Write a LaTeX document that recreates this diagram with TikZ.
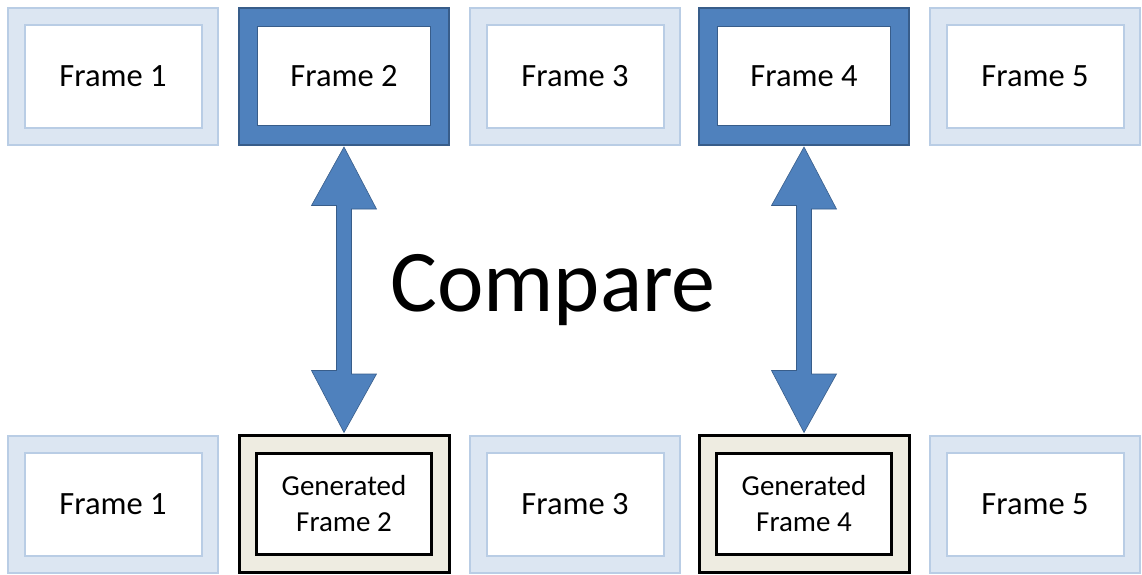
\documentclass[tikz,border=0pt]{standalone}
\usepackage{fontspec}
\setmainfont{Carlito}
\definecolor{lightfill}{HTML}{DCE6F2}
\definecolor{lightborder}{HTML}{B9CDE5}
\definecolor{darkfill}{HTML}{4F81BD}
\definecolor{darkborder}{HTML}{385D8A}
\definecolor{beige}{HTML}{EEECE1}
\begin{document}
\begin{tikzpicture}[x=1pt,y=-1pt,
  outerbox/.style={rectangle, minimum width=210pt, minimum height=137pt, inner sep=0pt},
  lightout/.style={outerbox, fill=lightfill, draw=lightborder, line width=2pt},
  darkout/.style={outerbox, fill=darkfill, draw=darkborder, line width=2pt},
  genout/.style={outerbox, fill=beige, draw=black, line width=3pt},
  lightin/.style={rectangle, minimum width=177pt, minimum height=103pt, fill=white, draw=lightborder, line width=2pt, font=\fontsize{32.5}{39}\selectfont},
  darkin/.style={rectangle, minimum width=173pt, minimum height=99pt, fill=white, draw=darkborder, line width=1.5pt, font=\fontsize{32.5}{39}\selectfont},
  genin/.style={rectangle, minimum width=175pt, minimum height=101pt, fill=white, draw=black, line width=3pt, align=center, font=\fontsize{29}{36}\selectfont},
  bigarrow/.style={fill=darkfill, draw=darkborder, line width=0.6pt, line join=miter}
]
\useasboundingbox (0,0) rectangle (1142,574);
% top row
\node[lightout] (t1o) at (113,76) {};
\node[lightin] (t1) at (t1o) {Frame 1};
\node[darkout] (t2o) at (344,76) {};
\node[darkin] (t2) at (t2o) {Frame 2};
\node[lightout] (t3o) at (575,76) {};
\node[lightin] (t3) at (t3o) {Frame 3};
\node[darkout] (t4o) at (804,76) {};
\node[darkin] (t4) at (t4o) {Frame 4};
\node[lightout] (t5o) at (1035,76) {};
\node[lightin] (t5) at (t5o) {Frame 5};
% bottom row
\node[lightout] (b1o) at (113,504) {};
\node[lightin] (b1) at (b1o) {Frame 1};
\node[genout] (b2o) at (344,504) {};
\node[genin] (b2) at (b2o) {Generated\\Frame 2};
\node[lightout] (b3o) at (575,504) {};
\node[lightin] (b3) at (b3o) {Frame 3};
\node[genout] (b4o) at (804,504) {};
\node[genin] (b4) at (b4o) {Generated\\Frame 4};
\node[lightout] (b5o) at (1035,504) {};
\node[lightin] (b5) at (b5o) {Frame 5};
% compare label
\node[font=\fontsize{88}{100}\selectfont] (cmp) at (553,290) {Compare};
% double arrows
\draw[bigarrow] ([yshift=-1.5pt]t2o.south) -- ++(32.5,62) -- ++(-25,0) -- ++(0,165) -- ++(25,0)
  -- ([yshift=1.5pt]b2o.north) -- ++(-32.5,-62) -- ++(25,0) -- ++(0,-165) -- ++(-25,0) -- cycle;
\draw[bigarrow] ([yshift=-1.5pt]t4o.south) -- ++(32.5,62) -- ++(-25,0) -- ++(0,165) -- ++(25,0)
  -- ([yshift=1.5pt]b4o.north) -- ++(-32.5,-62) -- ++(25,0) -- ++(0,-165) -- ++(-25,0) -- cycle;
\end{tikzpicture}
\end{document}
